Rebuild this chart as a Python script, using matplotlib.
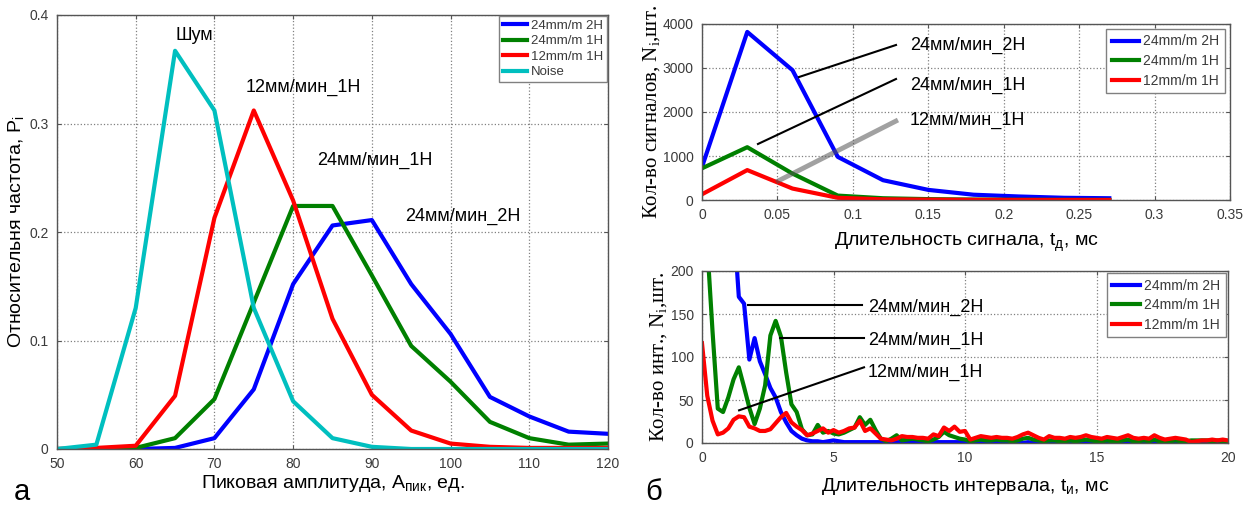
import matplotlib.pyplot as plt
import numpy as np
from matplotlib.ticker import FormatStrFormatter

plt.rcParams['font.family'] = ['Liberation Sans', 'DejaVu Sans']

# --- а: relative frequency vs peak amplitude
amp = [50, 55, 60, 65, 70, 75, 80, 85, 90, 95, 100, 105, 110, 115, 120]
p_24_2h = [0.0, 0.0, 0.0, 0.001, 0.010, 0.055, 0.152, 0.206, 0.211, 0.152, 0.106, 0.048, 0.030, 0.016, 0.014]
p_24_1h = [0.0, 0.0, 0.001, 0.010, 0.046, 0.135, 0.224, 0.224, 0.160, 0.095, 0.062, 0.025, 0.010, 0.004, 0.005]
p_12_1h = [0.0, 0.001, 0.003, 0.049, 0.213, 0.312, 0.229, 0.120, 0.050, 0.017, 0.005, 0.002, 0.001, 0.001, 0.001]
p_noise = [0.0, 0.004, 0.130, 0.367, 0.312, 0.130, 0.044, 0.010, 0.002, 0.0, 0.0, 0.0, 0.0, 0.0, 0.0]

# --- б (top): number of signals vs signal duration
dur = [0.0, 0.03, 0.06, 0.09, 0.12, 0.15, 0.18, 0.21, 0.24, 0.27]
n_24_2h = [750, 3820, 2950, 980, 450, 230, 120, 80, 50, 40]
n_24_1h = [720, 1200, 600, 100, 40, 20, 10, 5, 3, 2]
n_12_1h = [130, 680, 260, 50, 15, 8, 4, 2, 1, 0]

# --- б (bottom): number of intervals vs interval duration, 0.2 ms bins
t_int = np.linspace(0, 20, 101)
i_24_2h = [900, 800, 700, 600, 500, 400, 260, 170, 162, 97,
           122, 95, 80, 64, 53, 36, 24, 14, 9, 5,
           3, 2, 2, 1, 2, 3, 2, 1, 1, 1,
           1, 1, 1, 1, 1, 1, 1, 1, 1, 1,
           1, 1, 1, 1, 1, 1, 1, 1, 1, 1,
           1, 1, 1, 1, 1, 1, 1, 1, 1, 1,
           1, 0, 1, 0, 0, 1, 0, 0, 0, 0,
           0, 0, 0, 0, 0, 0, 0, 0, 0, 0,
           0, 0, 0, 0, 0, 0, 0, 0, 0, 0,
           0, 0, 0, 0, 0, 0, 0, 0, 0, 0, 0]
i_24_1h = [500, 230, 130, 40, 36, 53, 74, 88, 65, 41,
           22, 40, 67, 125, 142, 124, 82, 45, 36, 16,
           9, 10, 21, 12, 14, 11, 10, 12, 15, 18,
           30, 21, 27, 15, 5, 2, 5, 9, 3, 4,
           5, 4, 3, 2, 4, 7, 13, 9, 7, 5,
           4, 2, 3, 4, 3, 3, 4, 3, 3, 2,
           3, 5, 6, 4, 3, 2, 3, 3, 2, 2,
           3, 2, 3, 4, 3, 2, 2, 3, 2, 2,
           3, 4, 2, 2, 3, 2, 4, 2, 2, 2,
           3, 2, 2, 3, 3, 3, 3, 2, 3, 2, 2]
i_12_1h = [116, 55, 26, 10, 12, 17, 27, 31, 30, 19,
           17, 14, 14, 16, 23, 30, 35, 24, 19, 15,
           9, 11, 14, 17, 12, 15, 12, 14, 17, 18,
           26, 14, 17, 11, 5, 4, 3, 5, 8, 7,
           7, 6, 6, 5, 10, 8, 18, 14, 19, 13,
           14, 4, 6, 8, 7, 6, 7, 6, 6, 5,
           7, 10, 12, 9, 6, 4, 8, 6, 6, 5,
           7, 6, 7, 9, 7, 6, 5, 7, 6, 5,
           7, 9, 6, 5, 6, 5, 9, 6, 4, 5,
           6, 5, 4, 1, 2, 3, 3, 4, 3, 4, 3]

legend_labels = ['24mm/m 2H', '24mm/m 1H', '12mm/m 1H', 'Noise']
curve_labels = ['24мм/мин_2Н', '24мм/мин_1Н', '12мм/мин_1Н']

c_blue = '#0000ff'
c_green = '#008000'
c_red = '#ff0000'
c_cyan = '#00bfbf'
tick_col = '#3a3a3a'
LW = 3.0

W, H = 1253, 508


def px_rect(x0, y0, x1, y1):
    # pixel box (top-left origin) -> figure fraction rect
    return [x0 / W, 1 - y1 / H, (x1 - x0) / W, (y1 - y0) / H]


def style_axes(ax):
    ax.grid(True, linestyle=':', color='#808080', linewidth=0.9)
    ax.tick_params(direction='in', length=3, pad=6, labelsize=10, labelcolor=tick_col,
                   color='#555555', top=True, right=True)
    for s in ax.spines.values():
        s.set_color('#555555')
        s.set_linewidth(1.0)


def style_legend(leg):
    leg.get_frame().set_edgecolor('#808080')
    for txt in leg.get_texts():
        txt.set_color(tick_col)


fig = plt.figure(figsize=(W / 100, H / 100), dpi=100)

# ---------- panel а ----------
ax1 = fig.add_axes(px_rect(57, 15, 608, 449))
ax1.plot(amp, p_24_2h, color=c_blue, lw=LW, label=legend_labels[0])
ax1.plot(amp, p_24_1h, color=c_green, lw=LW, label=legend_labels[1])
ax1.plot(amp, p_12_1h, color=c_red, lw=LW, label=legend_labels[2])
ax1.plot(amp, p_noise, color=c_cyan, lw=LW, label=legend_labels[3])
ax1.set_xlim(50, 120)
ax1.set_ylim(0, 0.4)
ax1.set_xticks(range(50, 121, 10))
ax1.set_yticks([0, 0.1, 0.2, 0.3, 0.4])
ax1.yaxis.set_major_formatter(FormatStrFormatter('%g'))
style_axes(ax1)
ax1.set_xlabel('Пиковая амплитуда, A$_\\mathregular{пик}$, ед.', fontsize=14, labelpad=1)
ax1.set_ylabel('Относительня частота, P$_\\mathregular{i}$', fontsize=14, labelpad=2)
ax1.text(67.4, 0.381, 'Шум', fontsize=13, ha='center', va='center')
ax1.text(81.3, 0.333, curve_labels[2], fontsize=13, ha='center', va='center')
ax1.text(90.4, 0.266, curve_labels[1], fontsize=13, ha='center', va='center')
ax1.text(101.5, 0.214, curve_labels[0], fontsize=13, ha='center', va='center')
leg = ax1.legend(loc='upper right', fontsize=9.5, handlelength=1.8, handletextpad=0.3,
                 labelspacing=0.25, borderaxespad=0.05, fancybox=False, framealpha=1,
                 borderpad=0.3)
style_legend(leg)

# ---------- panel б, top ----------
ax2 = fig.add_axes(px_rect(702, 24, 1230, 200))
ax2.plot(dur, n_24_2h, color=c_blue, lw=LW, label=legend_labels[0])
ax2.plot(dur, n_24_1h, color=c_green, lw=LW, label=legend_labels[1])
ax2.plot(dur, n_12_1h, color=c_red, lw=LW, label=legend_labels[2])
ax2.set_xlim(0, 0.35)
ax2.set_ylim(0, 4000)
ax2.set_xticks(np.arange(0, 0.351, 0.05))
ax2.set_yticks(range(0, 4001, 1000))
ax2.xaxis.set_major_formatter(FormatStrFormatter('%g'))
style_axes(ax2)
ax2.set_xlabel('Длительность сигнала, t$_\\mathregular{д}$, мс', fontsize=14, labelpad=6)
ax2.set_ylabel('Кол-во сигналов, N$_\\mathregular{i}$,шт.', fontsize=15,
               family=['Liberation Serif', 'DejaVu Serif'], labelpad=0)
# leader lines to the curve names
ax2.plot([0.0643, 0.1286], [2795, 3523], color='black', lw=1.5)
ax2.plot([0.0371, 0.1286], [1273, 2750], color='black', lw=1.5)
ax2.plot([0.0491, 0.1299], [409, 1818], color='#555555', lw=3.5, alpha=0.55,
         solid_capstyle='butt')
ax2.text(0.1379, 3523, curve_labels[0], fontsize=13, va='center')
ax2.text(0.1379, 2614, curve_labels[1], fontsize=13, va='center')
ax2.text(0.1379, 1818, curve_labels[2], fontsize=13, va='center')
leg2 = ax2.legend(loc='upper right', fontsize=10, handlelength=2.0, handletextpad=0.3,
                  labelspacing=0.4, borderaxespad=0.35, fancybox=False, framealpha=1,
                  borderpad=0.4)
style_legend(leg2)

# ---------- panel б, bottom ----------
ax3 = fig.add_axes(px_rect(702, 271, 1228, 443))
ax3.plot(t_int, i_24_2h, color=c_blue, lw=LW, label=legend_labels[0])
ax3.plot(t_int, i_24_1h, color=c_green, lw=LW, label=legend_labels[1])
ax3.plot(t_int, i_12_1h, color=c_red, lw=LW, label=legend_labels[2])
ax3.set_xlim(0, 20)
ax3.set_ylim(0, 200)
ax3.set_xticks(range(0, 21, 5))
ax3.set_yticks(range(0, 201, 50))
style_axes(ax3)
ax3.set_xlabel('Длительность интервала, t$_\\mathregular{и}$, мс', fontsize=14, labelpad=8)
ax3.set_ylabel('Кол-во инт., N$_\\mathregular{i}$,шт.', fontsize=15,
               family=['Liberation Serif', 'DejaVu Serif'], labelpad=0)
ax3.plot([1.75, 6.08], [161, 161], color='black', lw=1.5)
ax3.plot([2.97, 6.16], [122, 122], color='black', lw=1.5)
ax3.plot([1.41, 6.16], [38, 88], color='black', lw=1.5)
ax3.text(6.31, 158, curve_labels[0], fontsize=13, va='center')
ax3.text(6.31, 119, curve_labels[1], fontsize=13, va='center')
ax3.text(6.31, 82, curve_labels[2], fontsize=13, va='center')
leg3 = ax3.legend(loc='upper right', fontsize=10, handlelength=2.0, handletextpad=0.3,
                  labelspacing=0.4, borderaxespad=0.15, fancybox=False, framealpha=1,
                  borderpad=0.4)
style_legend(leg3)

fig.text(14 / W, 1 - 492 / H, 'а', fontsize=21, va='center')
fig.text(645 / W, 1 - 492 / H, 'б', fontsize=21, va='center')

fig.savefig('out.png', dpi=100)
